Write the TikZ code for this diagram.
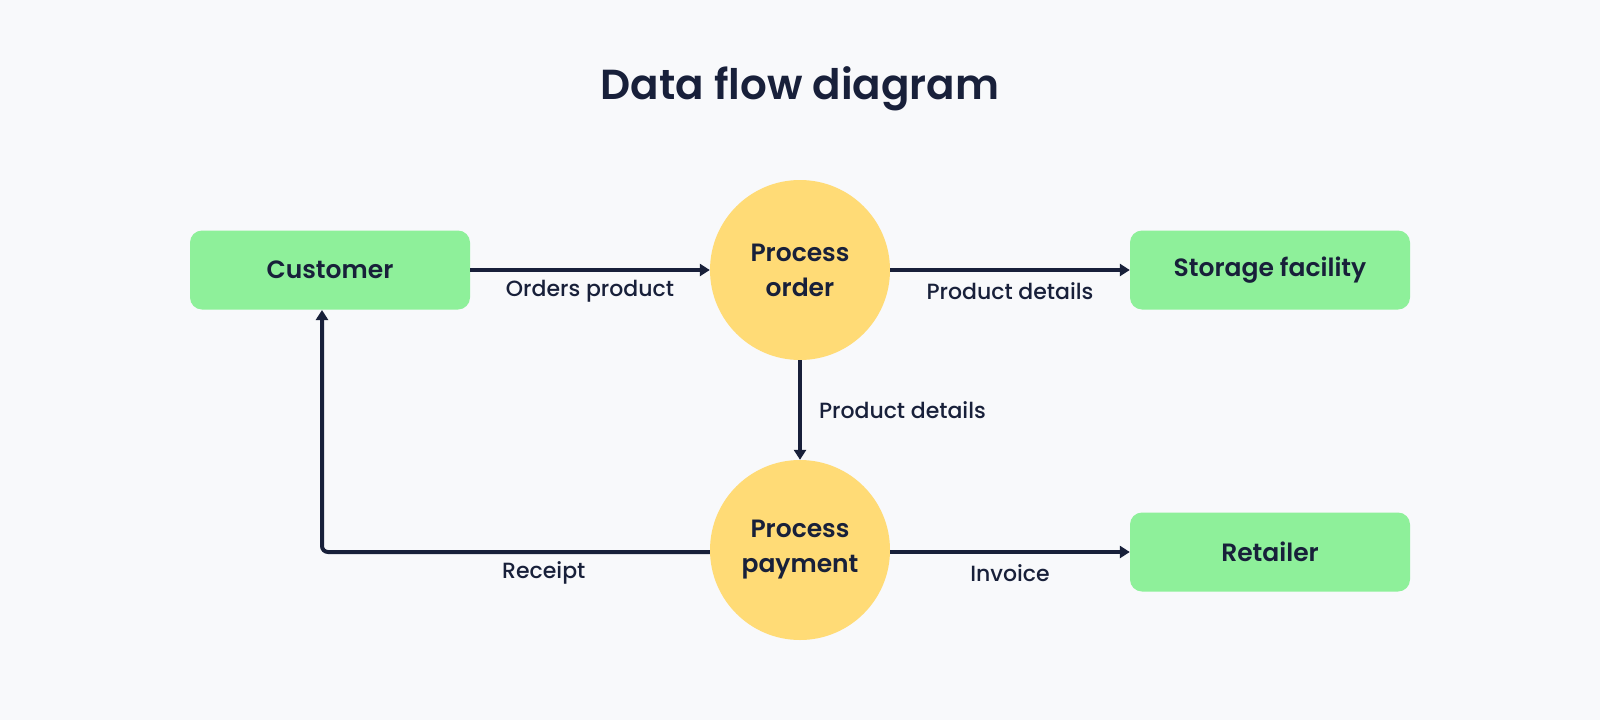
\documentclass[tikz,border=0pt]{standalone}
\usepackage{fontspec}
\setmainfont{Poppins}[UprightFont={* Medium},BoldFont={* SemiBold}]
\usetikzlibrary{arrows.meta}
\definecolor{bgc}{HTML}{F8F9FB}
\definecolor{greenc}{HTML}{8EF09A}
\definecolor{yellowc}{HTML}{FFDB76}
\definecolor{inkc}{HTML}{18203A}
\begin{document}
\begin{tikzpicture}[x=1pt,y=-1pt,
  entity/.style={fill=greenc,rounded corners=12pt,minimum width=280pt,minimum height=79pt,inner sep=0pt,text=inkc,font=\fontsize{25}{32}\selectfont\bfseries},
  procc/.style={circle,fill=yellowc,minimum size=180pt,inner sep=0pt,text=inkc,align=center,font=\fontsize{25}{35}\selectfont\bfseries},
  flow/.style={draw=inkc,line width=4pt,-{Triangle[length=10pt,width=12pt]}},
  lbl/.style={text=inkc,font=\fontsize{22}{26}\selectfont,inner sep=0pt}]
\useasboundingbox[fill=bgc] (0,0) rectangle (1600,720);
\node[text=inkc,font=\fontsize{42}{50}\selectfont\bfseries] (title) at (800,89) {Data flow diagram};
\node[entity] (cust) at (330,270) {Customer};
\node[procc] (po) at (800,270) {Process\\order};
\node[entity] (sto) at (1270,270) {Storage facility};
\node[procc] (pp) at (800,550) {Process\\payment};
\node[entity] (ret) at (1270,552) {Retailer};
\coordinate (cb) at (322,310);
\draw[flow] (cust.east) -- (po.west) node[lbl,midway,yshift=-21pt] (l1) {Orders product};
\draw[flow] (po.east) -- (sto.west) node[lbl,midway,yshift=-21pt] (l2) {Product details};
\draw[flow] (po.south) -- (pp.north) node[lbl,midway,anchor=west,xshift=17pt] (l3) {Product details};
\draw[flow] (pp.east |- ret.west) -- (ret.west) node[lbl,midway,yshift=-21pt] (l4) {Invoice};
\draw[flow,rounded corners=6pt] (pp.west |- ret.west) -| (cb) node[lbl,pos=0.214,yshift=-21pt] (l5) {Receipt};
\end{tikzpicture}
\end{document}
